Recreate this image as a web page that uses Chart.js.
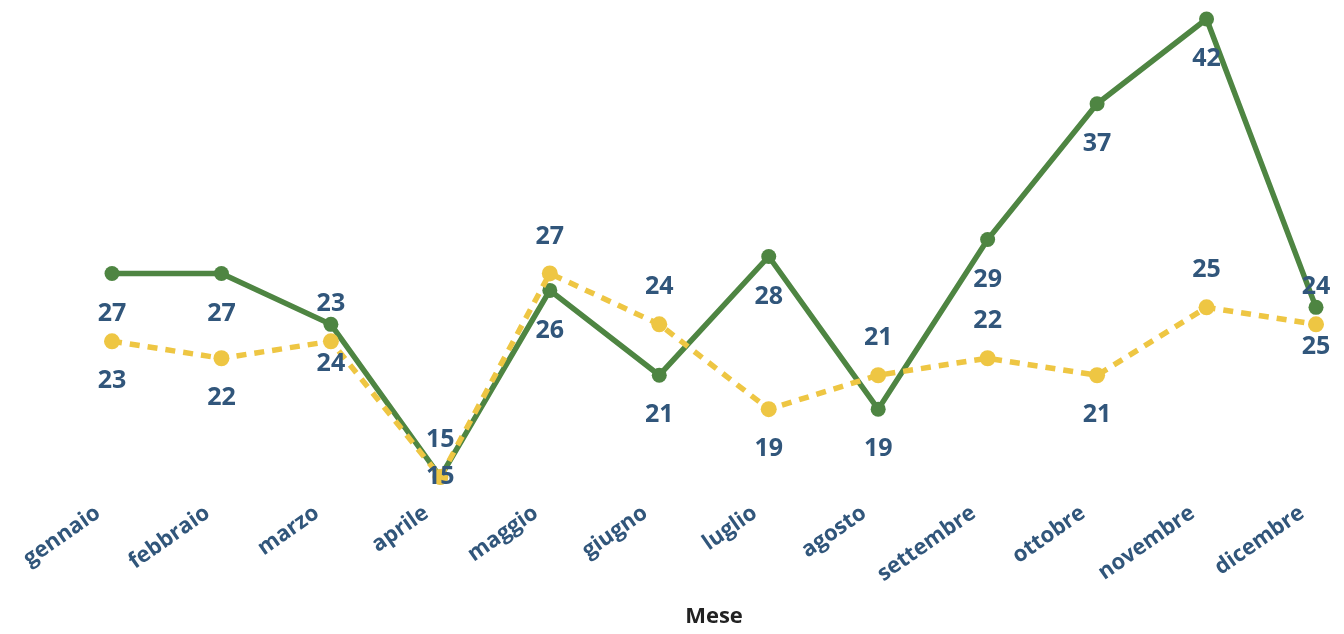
<!DOCTYPE html>
<html>
<head>
<meta charset="utf-8">
<script src="https://cdn.jsdelivr.net/npm/chart.js@4"></script>
<style>
  html, body { margin: 0; padding: 0; background: #ffffff; }
  #wrap { width: 1344px; height: 634px; position: relative; }
</style>
</head>
<body>
<div id="wrap"><canvas id="c" width="1344" height="634"></canvas></div>
<script>
const mesi = ["gennaio","febbraio","marzo","aprile","maggio","giugno","luglio","agosto","settembre","ottobre","novembre","dicembre"];
const serieVerde = [27, 27, 24, 15, 26, 21, 28, 19, 29, 37, 42, 25];
const serieGialla = [23, 22, 23, 15, 27, 24, 19, 21, 22, 21, 25, 24];

const FONT = "'Open Sans', 'Noto Sans', sans-serif";
const LABEL_COLOR = '#31567b';
// label placement for yellow series: true = below point
const gialloSotto = [true, true, false, false, false, false, true, false, false, true, false, false];

const labelPlugin = {
  id: 'valueLabels',
  afterDatasetsDraw(chart) {
    const ctx = chart.ctx;
    const area = chart.chartArea;
    ctx.save();
    ctx.font = 'bold 25px ' + FONT;
    ctx.fillStyle = LABEL_COLOR;
    ctx.textAlign = 'center';
    ctx.textBaseline = 'middle';
    chart.data.datasets.forEach((ds, di) => {
      const meta = chart.getDatasetMeta(di);
      meta.data.forEach((pt, i) => {
        let y;
        if (ds.key === 'verde') {
          y = Math.min(pt.y + 40, area.bottom);
        } else {
          y = gialloSotto[i] ? pt.y + 40 : pt.y - 37;
        }
        ctx.fillText(String(ds.data[i]), pt.x, y);
      });
    });
    ctx.restore();
  }
};

new Chart(document.getElementById('c'), {
  type: 'line',
  data: {
    labels: mesi,
    datasets: [
      {
        key: 'giallo',
        label: 'Serie 2',
        data: serieGialla,
        borderColor: '#eec643',
        backgroundColor: '#eec643',
        borderWidth: 5.5,
        borderDash: [10, 8],
        pointRadius: 8,
        pointHoverRadius: 8,
        pointBorderWidth: 0,
        tension: 0,
        clip: false,
        order: 0
      },
      {
        key: 'verde',
        label: 'Serie 1',
        data: serieVerde,
        borderColor: '#4e8542',
        backgroundColor: '#4e8542',
        borderWidth: 5.5,
        pointRadius: 7.5,
        pointHoverRadius: 7.5,
        pointBorderWidth: 0,
        tension: 0,
        clip: false,
        order: 1
      }
    ]
  },
  options: {
    responsive: false,
    animation: false,
    devicePixelRatio: 1,
    layout: { padding: { left: 112, right: 28, top: 19, bottom: 0 } },
    plugins: { legend: { display: false }, tooltip: { enabled: false } },
    scales: {
      y: { display: false, min: 15, max: 42 },
      x: {
        offset: false,
        grid: { display: false, drawTicks: false },
        border: { display: false },
        ticks: {
          color: LABEL_COLOR,
          font: { family: FONT, size: 22, weight: 'bold' },
          minRotation: 35,
          maxRotation: 35,
          autoSkip: false,
          padding: 23,
          labelOffset: -14
        },
        title: {
          display: true,
          text: 'Mese',
          color: '#222222',
          font: { family: FONT, size: 22, weight: 'bold' },
          padding: { top: 0, bottom: 4 }
        },
        afterFit(scale) {
          scale.height = 157;
          scale.paddingLeft = 0;
          scale.paddingRight = 0;
        }
      }
    }
  },
  plugins: [labelPlugin]
});
</script>
</body>
</html>
